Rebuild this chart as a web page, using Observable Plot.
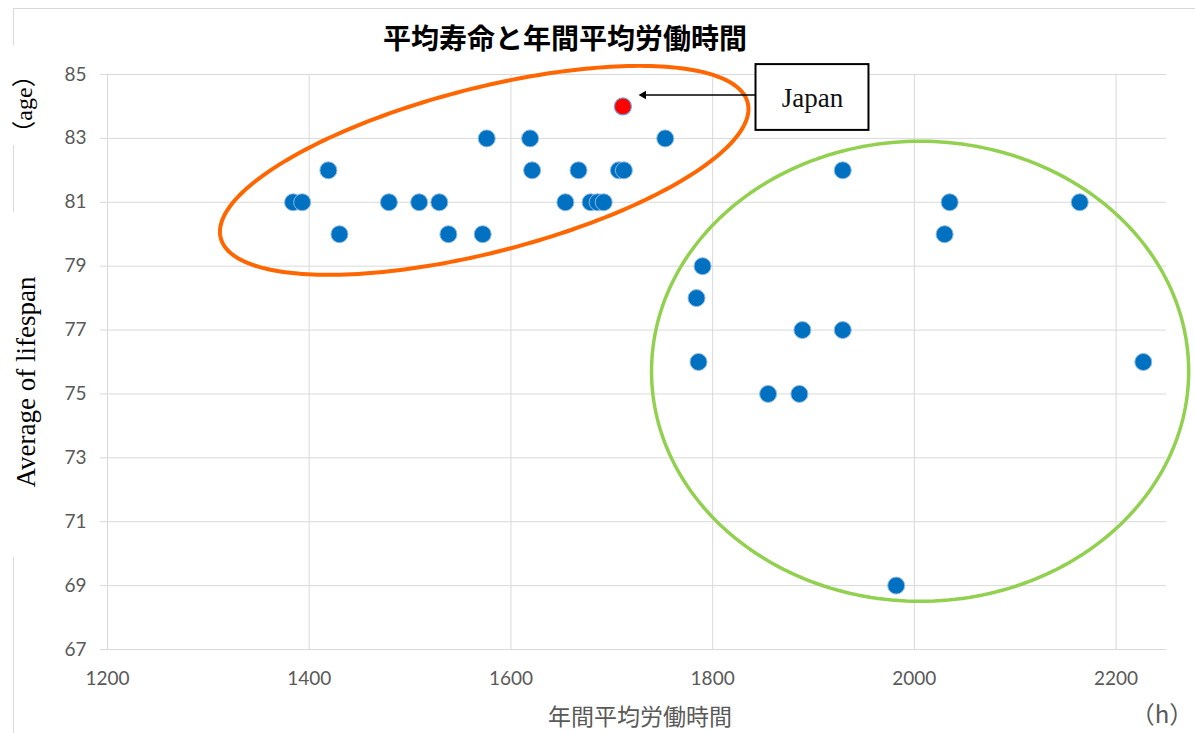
<!DOCTYPE html>
<html lang="ja">
<head>
<meta charset="utf-8">
<script src="https://cdn.jsdelivr.net/npm/d3@7"></script>
<script src="https://cdn.jsdelivr.net/npm/@observablehq/plot@0.6"></script>
<style>
  html, body { margin: 0; padding: 0; background: #fff; }
  #wrap { position: relative; width: 1195px; height: 733px; overflow: hidden; background: #fff; }
  #chart { position: absolute; left: 0; top: 0; }
  #chart svg { background: transparent; }
  .frame { position: absolute; background: #d9d9d9; }
  .lbl { position: absolute; white-space: nowrap; transform: translate(-50%, -50%); line-height: 1; }
  .rot { transform: translate(-50%, -50%) rotate(-90deg); }
  .cjk { font-family: 'Noto Sans CJK JP'; }
</style>
</head>
<body>
<div id="wrap">
  <!-- chart area border (the vertical edge is interrupted by the axis titles) -->
  <div class="frame" style="left:13px; top:8px; width:1182px; height:1px;"></div>
  <div class="frame" style="left:13px; top:8px; width:1px; height:37px;"></div>
  <div class="frame" style="left:13px; top:145px; width:1px; height:67px;"></div>
  <div class="frame" style="left:13px; top:557px; width:1px; height:176px;"></div>

  <div id="chart"></div>

  <div class="lbl" style="left:565px; top:37px; font-family:'Noto Sans CJK JP'; font-weight:bold; font-size:28px; color:#000;">平均寿命と年間平均労働時間</div>
  <div class="lbl rot" style="left:23px; top:104px; font-family:'Liberation Serif'; font-size:24px; color:#000;"><span class="cjk">（</span>age<span class="cjk">）</span></div>
  <div class="lbl rot" style="left:26px; top:382px; font-family:'Liberation Serif'; font-size:27px; color:#000;">Average of lifespan</div>
  <div class="lbl" style="left:640px; top:715px; font-family:'Noto Sans CJK JP'; font-size:23px; color:#595959;">年間平均労働時間</div>
  <div class="lbl" style="left:1162px; top:713px; font-family:'Noto Sans CJK JP'; font-size:24px; color:#595959;">（h）</div>
</div>
<script>
// Annual working hours (h) and average life expectancy (years), one entry per country
const workHours = [
  1576, 1619, 1753,
  1419, 1621, 1667, 1707, 1712,
  1384, 1393, 1479, 1509, 1529, 1654, 1679, 1686, 1692,
  1430, 1538, 1572,
  1929, 2035, 2164, 2030, 1790, 1784, 1889, 1929, 1786, 2227, 1855, 1886, 1982
];
const lifeExpectancy = [
  83, 83, 83,
  82, 82, 82, 82, 82,
  81, 81, 81, 81, 81, 81, 81, 81, 81,
  80, 80, 80,
  82, 81, 81, 80, 79, 78, 77, 77, 76, 76, 75, 75, 69
];
// Japan, highlighted
const japanHours = [1711];
const japanLife = [84];
const japanName = ["Japan"];

// Axis ticks
const xTicks = [1200, 1400, 1600, 1800, 2000, 2200];
const yTicks = [67, 69, 71, 73, 75, 77, 79, 81, 83, 85];

const points = workHours.map((h, i) => ({hours: h, life: lifeExpectancy[i]}));
const japan = japanHours.map((h, i) => ({hours: h, life: japanLife[i], name: japanName[i]}));

// Group outlines: centre, half extents (data units) and phase of the vertical component
const groupShort = {cx: 1573.5, cy: 82.0, rx: 262, ry: 3.27, phase: 54 * Math.PI / 180};
const groupLong = {cx: 2005.7, cy: 75.71, rx: 266.3, ry: 7.2, phase: Math.PI / 2};
function outline(e, n = 240) {
  return d3.range(n).map(i => {
    const t = 2 * Math.PI * i / n;
    return {x: e.cx + e.rx * Math.cos(t), y: e.cy + e.ry * Math.cos(t - e.phase)};
  });
}

// Callout box and pointer for Japan
const callout = [{x1: 1843, x2: 1955, y1: 83.25, y2: 85.31, text: japanName[0]}];
const pointer = [{x1: 1843, x2: 1733, y: 84.36, tip: 1727}];

const chart = Plot.plot({
  width: 1195,
  height: 733,
  marginLeft: 107,
  marginRight: 29,
  marginTop: 74,
  marginBottom: 84,
  style: {fontFamily: "Lato, 'Noto Sans', sans-serif", background: "transparent"},
  x: {domain: [1200, 2250], ticks: xTicks},
  y: {domain: [67, 85], ticks: yTicks},
  marks: [
    Plot.gridX(xTicks, {stroke: "#d9d9d9", strokeOpacity: 1}),
    Plot.gridY(yTicks, {stroke: "#d9d9d9", strokeOpacity: 1}),
    Plot.axisY(yTicks, {tickSize: 7, tickPadding: 14, stroke: "#d9d9d9", fill: "#595959", fontSize: 19, label: null, tickFormat: d => String(d)}),
    Plot.axisX(xTicks, {tickSize: 0, tickPadding: 22, fill: "#595959", fontSize: 19, label: null, tickFormat: d => String(d)}),
    Plot.line(outline(groupShort), {x: "x", y: "y", curve: "linear-closed", stroke: "#FF6600", strokeWidth: 4}),
    Plot.line(outline(groupLong), {x: "x", y: "y", curve: "linear-closed", stroke: "#92D050", strokeWidth: 3.5}),
    Plot.dot(points, {x: "hours", y: "life", r: 8.5, fill: "#0070C0", stroke: "#8DB9E4", strokeWidth: 1}),
    Plot.dot(japan, {x: "hours", y: "life", r: 8.5, fill: "#FF0000", stroke: "#6FA3D8", strokeWidth: 1.2}),
    Plot.link(pointer, {x1: "x1", x2: "x2", y1: "y", y2: "y", stroke: "#000", strokeWidth: 1.5}),
    Plot.dot(pointer, {x: "tip", y: "y", dx: 4.5, symbol: "triangle", rotate: -90, r: 3.2, fill: "#000", stroke: null}),
    Plot.rect(callout, {x1: "x1", x2: "x2", y1: "y1", y2: "y2", fill: "#fff", stroke: "#000", strokeWidth: 2}),
    Plot.text(callout, {x: d => (d.x1 + d.x2) / 2, y: d => (d.y1 + d.y2) / 2, text: "text", fontFamily: "'Liberation Serif', serif", fontSize: 27, fill: "#111", dy: 1})
  ]
});
document.getElementById("chart").appendChild(chart);
</script>
</body>
</html>
